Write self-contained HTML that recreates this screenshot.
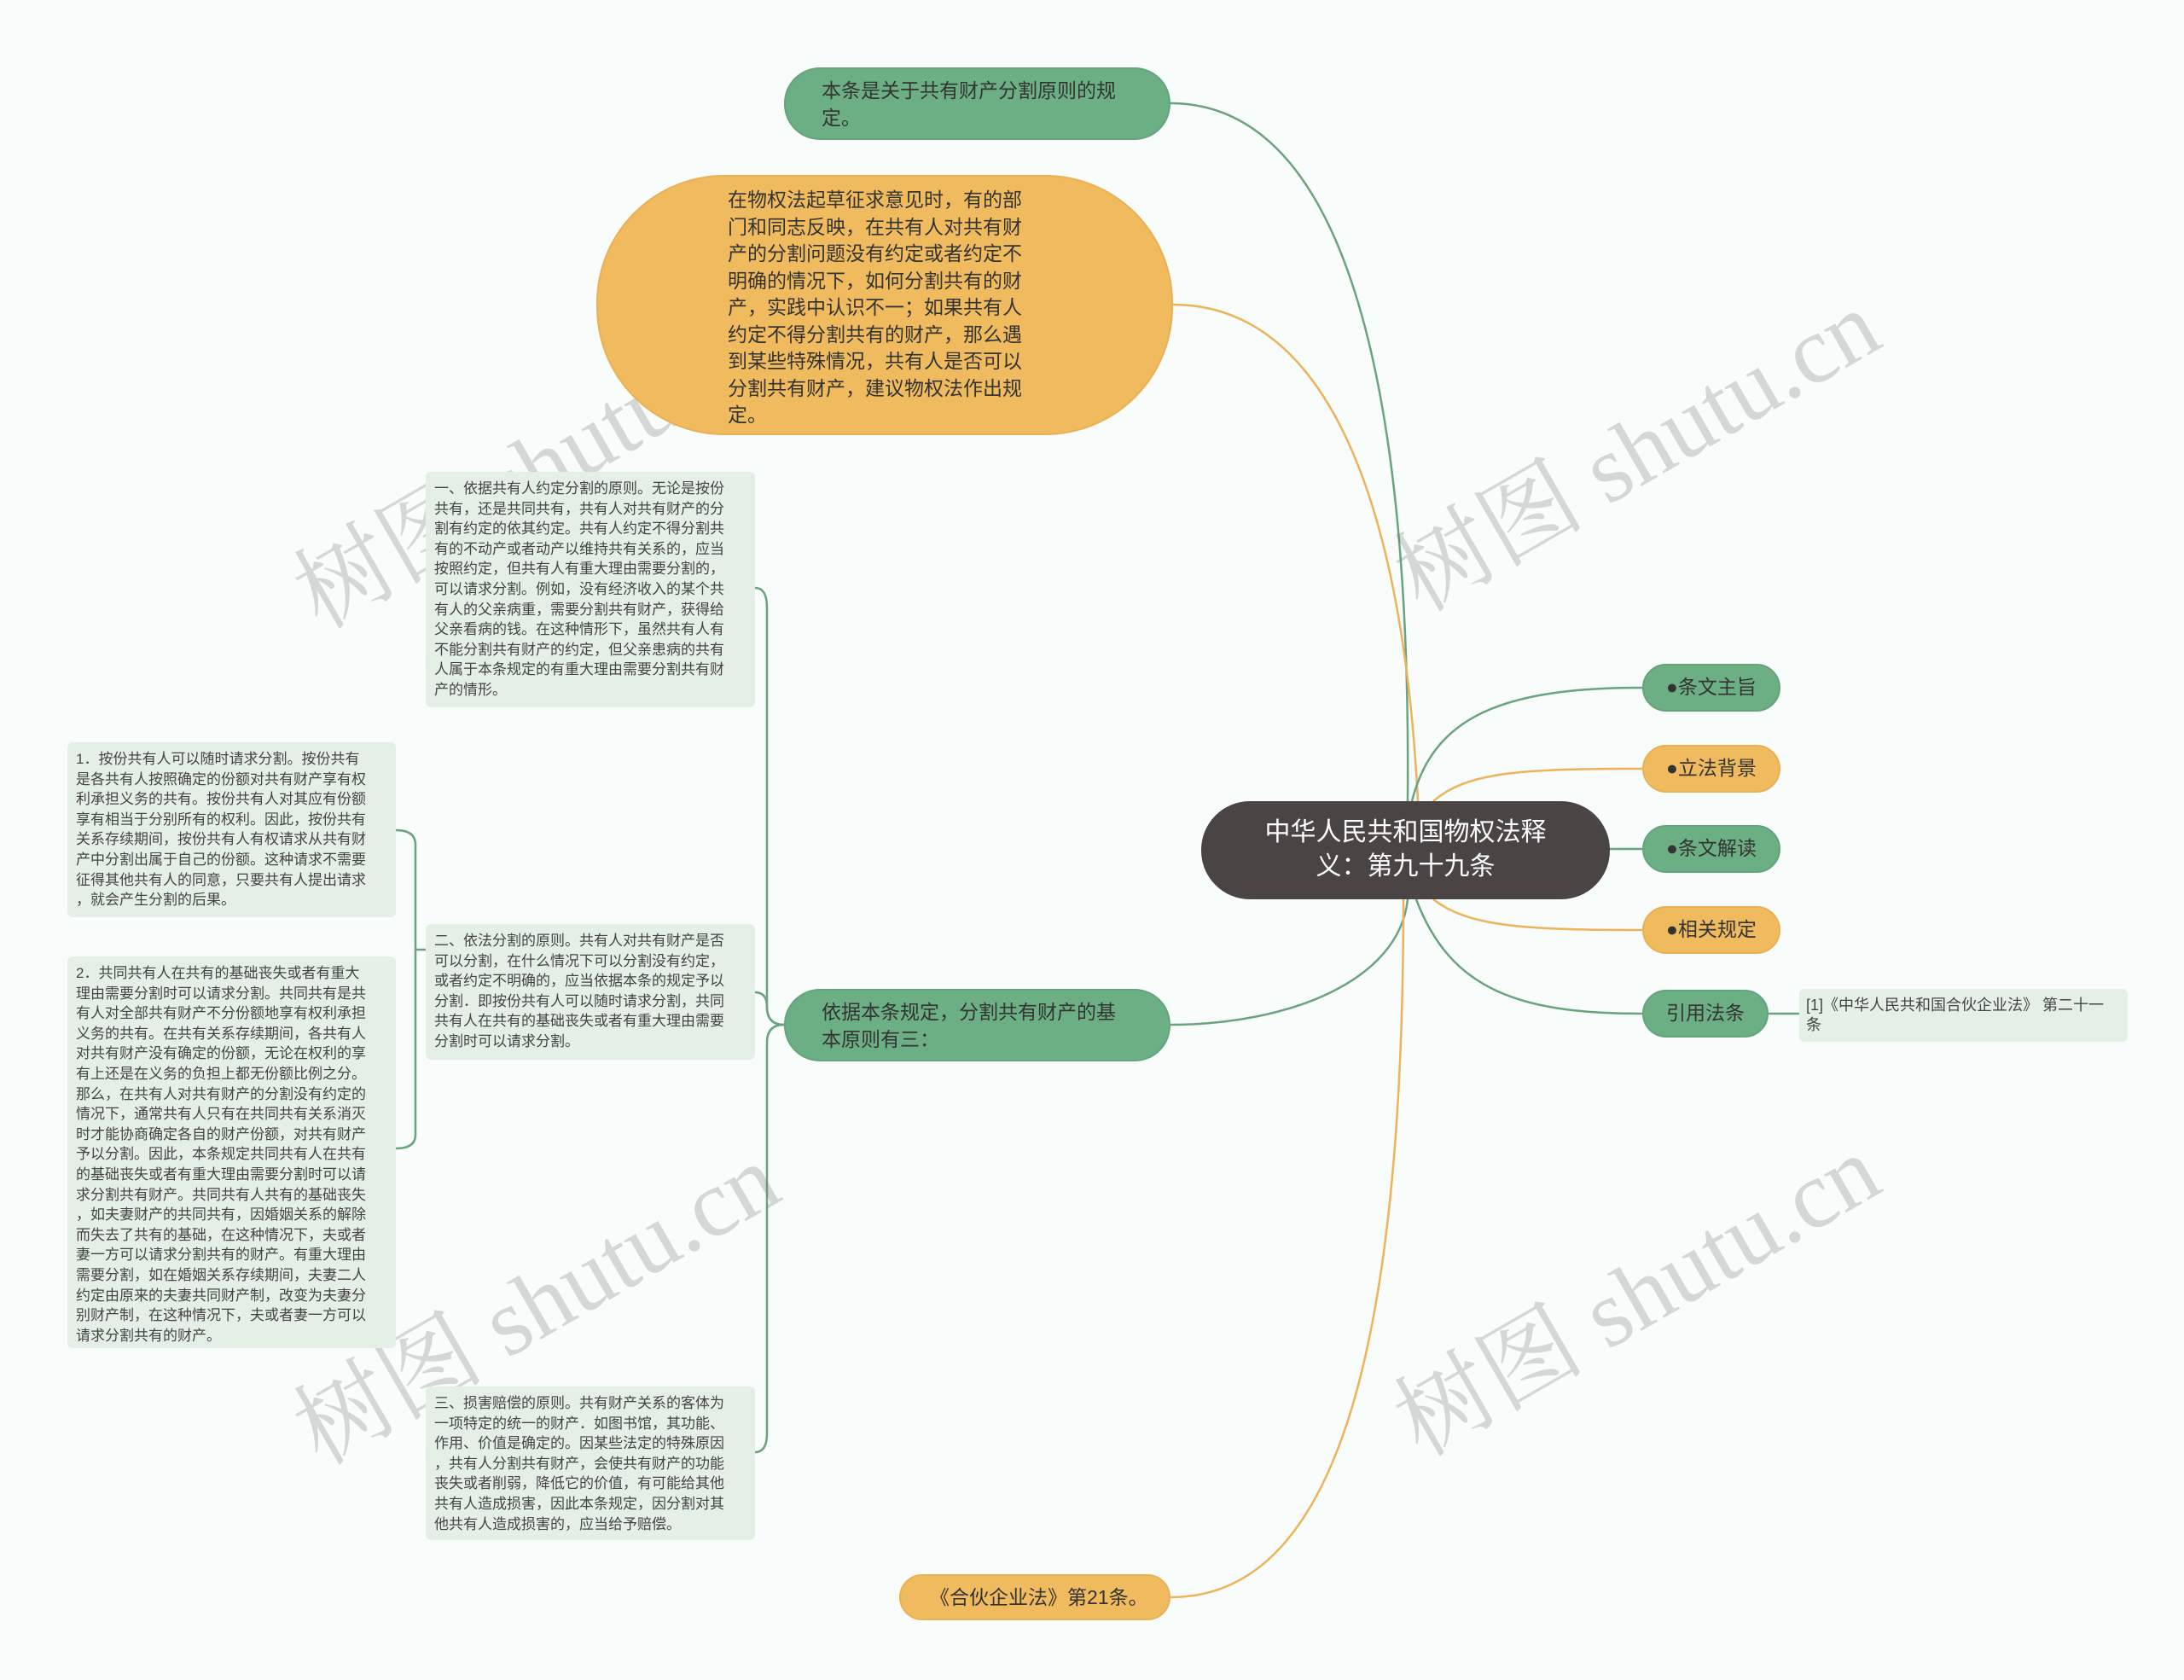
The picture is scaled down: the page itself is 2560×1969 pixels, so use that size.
<!DOCTYPE html>
<html><head><meta charset="utf-8">
<style>
html,body{margin:0;padding:0}
body{width:2560px;height:1969px;background:#f8fcfa;position:relative;overflow:hidden;font-family:"Liberation Sans","Noto Sans CJK SC",sans-serif}
.n{position:absolute;box-sizing:border-box;color:#333}
.g{background:#6daf84;border:2px solid #63a47a}
.o{background:#f0bb5e;border:2px solid #e9b055}
.b{background:#e4efe6;border-radius:6px;font-size:17px;line-height:23.6px;padding:8px 10px;white-space:nowrap;color:#444}
.lbl{font-size:23px;line-height:31.5px;white-space:nowrap}
.wm{position:absolute;font-family:"Liberation Serif","Noto Serif CJK SC",serif;font-size:112px;color:rgba(120,120,120,0.28);transform:rotate(-30deg);white-space:nowrap;transform-origin:center}
</style></head><body>
<svg width="2560" height="1969" style="position:absolute;left:0;top:0" fill="none" stroke-width="2.5">
<path d="M1650,939 C1655,400 1560,121 1372,121" stroke="#6aa37f"/>
<path d="M1662,939 C1645,600 1560,357 1375,357" stroke="#ecb35a"/>
<path d="M1650,1054 C1640,1150 1510,1201 1372,1201" stroke="#6aa37f"/>
<path d="M1645,1054 C1645,1600 1560,1872 1372,1872" stroke="#ecb35a"/>
<path d="M1655,939 C1680,840 1760,806 1925,806" stroke="#6aa37f"/>
<path d="M1680,939 C1720,905 1780,901 1925,901" stroke="#ecb35a"/>
<path d="M1887,995 L1925,995" stroke="#6aa37f"/>
<path d="M1680,1054 C1720,1085 1780,1090 1925,1090" stroke="#ecb35a"/>
<path d="M1660,1054 C1700,1160 1780,1188 1925,1188" stroke="#6aa37f"/>
<path d="M2073,1188 L2109,1188" stroke="#6aa37f"/>
<g stroke="#6aa37f" stroke-width="2.5">
<path d="M919,1201 Q899,1201 899,1180 L899,712 Q899,689 885,689"/>
<path d="M919,1201 Q899,1201 899,1180 Q899,1163 885,1163"/>
<path d="M919,1201 Q899,1201 899,1222 L899,1680 Q899,1702 885,1702"/>
<path d="M499,1113 L487,1113 L487,990 Q487,973 464,973"/>
<path d="M487,1113 L487,1330 Q487,1346 464,1346"/>
</g>
</svg>

<div class="wm" style="left:310px;top:460px">树图 shutu.cn</div>
<div class="wm" style="left:1600px;top:440px">树图 shutu.cn</div>
<div class="wm" style="left:310px;top:1440px">树图 shutu.cn</div>
<div class="wm" style="left:1600px;top:1430px">树图 shutu.cn</div>

<div class="n g lbl" style="left:919px;top:79px;width:453px;height:85px;border-radius:42px;padding:10px 0 0 42px">本条是关于共有财产分割原则的规<br>定。</div>

<div class="n o lbl" style="left:699px;top:205px;width:676px;height:305px;border-radius:150px;padding:12px 0 0 152px">在物权法起草征求意见时，有的部<br>门和同志反映，在共有人对共有财<br>产的分割问题没有约定或者约定不<br>明确的情况下，如何分割共有的财<br>产，实践中认识不一；如果共有人<br>约定不得分割共有的财产，那么遇<br>到某些特殊情况，共有人是否可以<br>分割共有财产，建议物权法作出规<br>定。</div>

<div class="n" style="left:1408px;top:939px;width:479px;height:115px;border-radius:57px;background:#4a4544;color:#fff;font-size:30px;line-height:40px;text-align:center;padding-top:17px">中华人民共和国物权法释<br>义：第九十九条</div>

<div class="n g lbl" style="left:1925px;top:778px;width:162px;height:56px;border-radius:28px;padding:10px 0 0 26px">●条文主旨</div>
<div class="n o lbl" style="left:1925px;top:873px;width:162px;height:56px;border-radius:28px;padding:10px 0 0 26px">●立法背景</div>
<div class="n g lbl" style="left:1925px;top:967px;width:162px;height:56px;border-radius:28px;padding:10px 0 0 26px">●条文解读</div>
<div class="n o lbl" style="left:1925px;top:1062px;width:162px;height:56px;border-radius:28px;padding:10px 0 0 26px">●相关规定</div>
<div class="n g lbl" style="left:1925px;top:1160px;width:148px;height:56px;border-radius:28px;padding:10px 0 0 26px">引用法条</div>

<div class="n b" style="left:2109px;top:1159px;width:385px;height:62px;font-size:18px;line-height:23px;padding:8px 8px">[1]《中华人民共和国合伙企业法》 第二十一<br>条</div>

<div class="n g lbl" style="left:919px;top:1159px;width:453px;height:85px;border-radius:42px;padding:10px 0 0 42px">依据本条规定，分割共有财产的基<br>本原则有三：</div>

<div class="n o lbl" style="left:1054px;top:1845px;width:318px;height:54px;border-radius:27px;padding:10px 0 0 34px">《合伙企业法》第21条。</div>

<div class="n b" style="left:499px;top:553px;width:386px;height:276px">一、依据共有人约定分割的原则。无论是按份<br>共有，还是共同共有，共有人对共有财产的分<br>割有约定的依其约定。共有人约定不得分割共<br>有的不动产或者动产以维持共有关系的，应当<br>按照约定，但共有人有重大理由需要分割的，<br>可以请求分割。例如，没有经济收入的某个共<br>有人的父亲病重，需要分割共有财产，获得给<br>父亲看病的钱。在这种情形下，虽然共有人有<br>不能分割共有财产的约定，但父亲患病的共有<br>人属于本条规定的有重大理由需要分割共有财<br>产的情形。</div>

<div class="n b" style="left:499px;top:1083px;width:386px;height:159px">二、依法分割的原则。共有人对共有财产是否<br>可以分割，在什么情况下可以分割没有约定，<br>或者约定不明确的，应当依据本条的规定予以<br>分割．即按份共有人可以随时请求分割，共同<br>共有人在共有的基础丧失或者有重大理由需要<br>分割时可以请求分割。</div>

<div class="n b" style="left:499px;top:1625px;width:386px;height:180px">三、损害赔偿的原则。共有财产关系的客体为<br>一项特定的统一的财产．如图书馆，其功能、<br>作用、价值是确定的。因某些法定的特殊原因<br>，共有人分割共有财产，会使共有财产的功能<br>丧失或者削弱，降低它的价值，有可能给其他<br>共有人造成损害，因此本条规定，因分割对其<br>他共有人造成损害的，应当给予赔偿。</div>

<div class="n b" style="left:79px;top:870px;width:385px;height:205px">1．按份共有人可以随时请求分割。按份共有<br>是各共有人按照确定的份额对共有财产享有权<br>利承担义务的共有。按份共有人对其应有份额<br>享有相当于分别所有的权利。因此，按份共有<br>关系存续期间，按份共有人有权请求从共有财<br>产中分割出属于自己的份额。这种请求不需要<br>征得其他共有人的同意，只要共有人提出请求<br>，就会产生分割的后果。</div>

<div class="n b" style="left:79px;top:1121px;width:385px;height:459px">2．共同共有人在共有的基础丧失或者有重大<br>理由需要分割时可以请求分割。共同共有是共<br>有人对全部共有财产不分份额地享有权利承担<br>义务的共有。在共有关系存续期间，各共有人<br>对共有财产没有确定的份额，无论在权利的享<br>有上还是在义务的负担上都无份额比例之分。<br>那么，在共有人对共有财产的分割没有约定的<br>情况下，通常共有人只有在共同共有关系消灭<br>时才能协商确定各自的财产份额，对共有财产<br>予以分割。因此，本条规定共同共有人在共有<br>的基础丧失或者有重大理由需要分割时可以请<br>求分割共有财产。共同共有人共有的基础丧失<br>，如夫妻财产的共同共有，因婚姻关系的解除<br>而失去了共有的基础，在这种情况下，夫或者<br>妻一方可以请求分割共有的财产。有重大理由<br>需要分割，如在婚姻关系存续期间，夫妻二人<br>约定由原来的夫妻共同财产制，改变为夫妻分<br>别财产制，在这种情况下，夫或者妻一方可以<br>请求分割共有的财产。</div>
</body></html>
